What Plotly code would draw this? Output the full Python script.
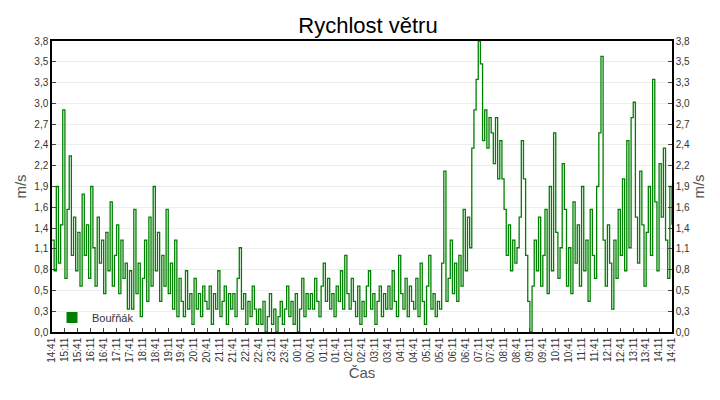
import plotly.graph_objects as go
import pandas as pd
import numpy as np

# wind speed every 5 minutes, from 14:41 to 14:41 the next day
speed = [
    1.2, 0.8, 1.9, 0.9, 1.4, 2.9, 0.7, 1.6, 2.3, 1.0, 1.5, 0.8,   # 14:41
    1.3, 0.6, 1.8, 1.0, 1.4, 0.7, 1.9, 1.1, 0.6, 1.5, 0.9, 1.2,   # 15:41
    0.5, 1.3, 0.8, 1.7, 0.6, 1.0, 1.4, 0.5, 1.2, 0.7, 0.9, 0.3,   # 16:41
    0.8, 0.3, 1.6, 0.5, 0.9, 0.2, 0.7, 1.2, 0.4, 1.5, 0.6, 1.9,   # 17:41
    0.8, 1.3, 0.4, 1.0, 0.6, 1.6, 0.5, 0.9, 0.3, 1.2, 0.2, 0.7,   # 18:41
    0.4, 0.2, 0.8, 0.3, 0.5, 0.1, 0.7, 0.3, 0.5, 0.2, 0.6, 0.4,   # 19:41
    0.3, 0.6, 0.1, 0.5, 0.3, 0.8, 0.2, 0.4, 0.6, 0.1, 0.5, 0.3,   # 20:41
    0.5, 0.2, 0.7, 1.1, 0.3, 0.5, 0.1, 0.4, 0.2, 0.6, 0.3, 0.1,   # 21:41
    0.3, 0.1, 0.4, 0.0, 0.2, 0.5, 0.1, 0.3, 0.0, 0.2, 0.4, 0.1,   # 22:41
    0.3, 0.6, 0.2, 0.4, 0.1, 0.5, 0.0, 0.3, 0.7, 0.2, 0.5, 0.3,   # 23:41
    0.5, 0.3, 0.7, 0.4, 0.2, 0.6, 0.9, 0.4, 0.7, 0.3, 0.5, 0.2,   # 00:41
    0.6, 0.4, 0.8, 0.3, 1.0, 0.5, 0.3, 0.7, 0.4, 0.2, 0.6, 0.1,   # 01:41
    0.4, 0.2, 0.6, 0.8, 0.3, 0.5, 0.1, 0.4, 0.6, 0.2, 0.5, 0.3,   # 02:41
    0.6, 0.3, 0.8, 0.4, 0.2, 1.0, 0.5, 0.3, 0.7, 0.2, 0.6, 0.4,   # 03:41
    0.3, 0.7, 0.2, 0.9, 0.4, 0.1, 0.6, 1.0, 0.3, 0.5, 0.2, 0.4,   # 04:41
    0.3, 0.9, 2.1, 0.4, 0.7, 1.2, 0.5, 0.9, 0.4, 1.0, 0.6, 1.6,   # 05:41
    0.8, 1.5, 1.1, 2.4, 2.9, 3.3, 3.8, 3.5, 2.5, 2.9, 2.4, 2.8,   # 06:41
    2.6, 2.2, 2.8, 2.0, 2.5, 2.0, 1.6, 1.0, 1.4, 0.8, 1.2, 0.9,   # 07:41
    1.1, 1.5, 2.5, 2.0, 1.0, 0.4, 0.0, 0.6, 1.2, 0.8, 1.5, 0.6,   # 08:41
    1.0, 1.6, 0.5, 1.9, 0.8, 2.6, 1.3, 0.7, 1.1, 2.2, 1.6, 0.6,   # 09:41
    1.1, 0.5, 1.7, 0.9, 1.4, 0.6, 1.9, 0.8, 1.2, 0.4, 1.6, 1.0,   # 10:41
    0.7, 1.9, 2.6, 3.6, 1.2, 0.6, 1.4, 0.9, 0.3, 1.2, 0.7, 1.6,   # 11:41
    1.0, 2.0, 0.8, 2.5, 1.1, 2.8, 3.0, 1.5, 0.9, 2.1, 1.4, 0.6,   # 12:41
    1.3, 1.9, 1.0, 3.3, 1.7, 0.8, 2.2, 1.5, 2.4, 1.2, 0.7, 1.9,   # 13:41
    1.4,
]
times = pd.date_range("2024-05-01 14:41", periods=len(speed), freq="5min")
tick_times = pd.date_range("2024-05-01 14:41", "2024-05-02 14:41", freq="30min")
tick_labels = [t.strftime("%H:%M") for t in tick_times]
y_ticks = np.linspace(0, 3.8, 15)
y_labels = [f"{v:.1f}".replace(".", ",") for v in y_ticks]

fig = go.Figure()
fig.add_trace(go.Scatter(x=times, y=speed, mode="lines", line_shape="hv",
                         line=dict(color="#008000", width=1.3), showlegend=False))
# square legend swatch
fig.add_trace(go.Scatter(x=[None], y=[None], mode="markers", name="Bouřňák",
                         marker=dict(symbol="square", size=11, color="#008000")))
# invisible trace to get the right-hand axis
fig.add_trace(go.Scatter(x=times, y=speed, yaxis="y2", mode="lines",
                         line=dict(width=0), showlegend=False, hoverinfo="skip"))

axis_font = dict(family="Liberation Sans", size=10, color="#333")
title_font = dict(family="Liberation Sans", size=15, color="#555")
fig.update_layout(
    width=720, height=400,
    margin=dict(l=41, r=56, t=33, b=76),
    plot_bgcolor="white", paper_bgcolor="white",
    title=dict(text="Rychlost větru", x=0.5, xanchor="center", y=0.975,
               font=dict(family="Liberation Sans", size=22, color="black")),
    xaxis=dict(range=[tick_times[0], tick_times[-1]], tickvals=tick_times, ticktext=tick_labels,
               tickangle=-90, tickfont=axis_font, ticks="inside", ticklen=4,
               showgrid=False, showline=True, linecolor="black", linewidth=1.5, mirror=True,
               title=dict(text="Čas", font=title_font, standoff=6)),
    yaxis=dict(range=[0, 3.8], tickvals=y_ticks, ticktext=y_labels, tickfont=axis_font,
               ticks="inside", ticklen=4, showgrid=True, gridcolor="#ececec",
               showline=True, linecolor="black", linewidth=1.5, zeroline=False,
               title=dict(text="m/s", font=title_font, standoff=4)),
    yaxis2=dict(range=[0, 3.8], tickvals=y_ticks, ticktext=y_labels, tickfont=axis_font,
                overlaying="y", side="right", ticks="inside", ticklen=4, showgrid=False,
                showline=True, linecolor="black", linewidth=1.5, zeroline=False,
                title=dict(text="m/s", font=title_font, standoff=4)),
    legend=dict(x=0.0, y=0.0, xanchor="left", yanchor="bottom", bgcolor="rgba(0,0,0,0)",
                font=dict(family="Liberation Sans", size=11, color="#333")),
    showlegend=True,
)
fig.write_html("out.html")
